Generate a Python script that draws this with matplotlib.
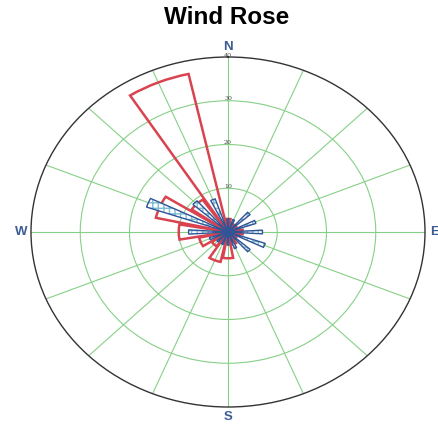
import numpy as np
import matplotlib
matplotlib.use("Agg")
import matplotlib.pyplot as plt

directions = ["N", "NNE", "NE", "ENE", "E", "ESE", "SE", "SSE",
              "S", "SSW", "SW", "WSW", "W", "WNW", "NW", "NNW"]
angles_deg = [0, 22.5, 45, 67.5, 90, 112.5, 135, 157.5,
              180, 202.5, 225, 247.5, 270, 292.5, 315, 337.5]
red_values = [3, 2, 2, 2, 3, 2, 2, 3, 6, 7, 4, 6, 10, 15, 9, 37]
blue_values = [3, 3, 6, 6, 7, 8, 6, 4, 3, 3, 3, 4, 8, 17.5, 9.5, 8]
r_ticks = [10, 20, 30, 40]
r_tick_labels = ["10", "20", "30", "40"]
compass_labels = {0: "N", 90: "E", 180: "S", 270: "W"}

W, H = 439, 428
fig = plt.figure(figsize=(W / 100, H / 100), dpi=100)
ax = fig.add_axes([31 / W, 21 / H, 394 / W, 350 / H], projection="polar")
ax.set_aspect("auto")
ax.set_theta_zero_location("N")
ax.set_theta_direction(-1)
ax.set_ylim(0, 40)

theta = np.deg2rad(angles_deg)
red_w = np.deg2rad(20)
blue_w = np.deg2rad(7)

ax.bar(theta, red_values, width=red_w, facecolor="none", edgecolor="#d8434f",
       linewidth=1.8, zorder=3)
ax.bar(theta, blue_values, width=blue_w, facecolor="white", edgecolor="#7fbcd6",
       hatch="+++", linewidth=0, zorder=4)
ax.bar(theta, blue_values, width=blue_w, facecolor="none", edgecolor="#2f5597",
       linewidth=1.0, zorder=5)
ax.plot([0], [0], "o", color="#2f5597", markersize=5, zorder=6)

# grid
ax.set_xticks(np.deg2rad(angles_deg))
ax.set_xticklabels([compass_labels.get(a, "") for a in angles_deg],
                   color="#3d5c94", fontsize=9.5, fontweight="bold",
                   family="Liberation Sans")
ax.tick_params(axis="x", pad=-3.5)
ax.set_yticks(r_ticks[:-1])
ax.set_yticklabels([])
ax.grid(True, color="#86d086", linewidth=0.8)
ax.spines["polar"].set_color("#333333")
ax.spines["polar"].set_linewidth(1.0)

for r, lab in zip(r_ticks, r_tick_labels):
    ax.text(0, r + 0.4, lab, ha="center", va="center", fontsize=4.5,
            color="#444444", family="DejaVu Serif", zorder=7)

fig.text(226.5 / W, 1 - 18 / H, "Wind Rose", ha="center", va="center",
         fontsize=17.5, fontweight="bold", family="Liberation Sans")

fig.savefig("out.png", dpi=100)
